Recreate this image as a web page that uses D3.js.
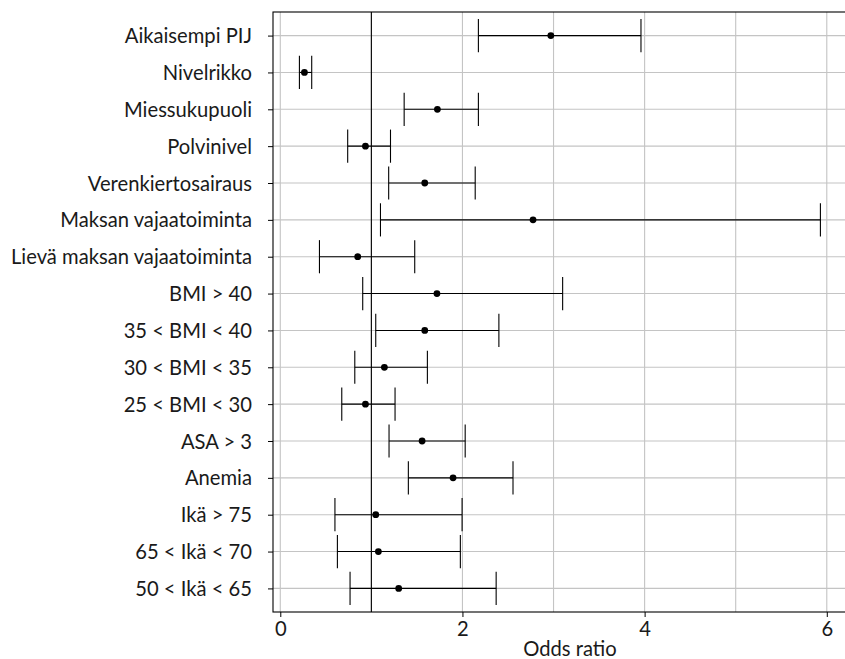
<!DOCTYPE html>
<html>
<head>
<meta charset="utf-8">
<script src="https://cdn.jsdelivr.net/npm/d3@7"></script>
<style>
  body { margin: 0; background: #fff; }
  svg text { font-family: Lato, "Open Sans", sans-serif; fill: #1a1a1a; }
</style>
</head>
<body>
<div id="chart"></div>
<script>
/* ********* data ********* */
var labels = [
  "Aikaisempi PIJ", "Nivelrikko", "Miessukupuoli", "Polvinivel",
  "Verenkiertosairaus", "Maksan vajaatoiminta", "Lievä maksan vajaatoiminta",
  "BMI > 40", "35 < BMI < 40", "30 < BMI < 35", "25 < BMI < 30",
  "ASA > 3", "Anemia", "Ikä > 75", "65 < Ikä < 70", "50 < Ikä < 65"
];
var oddsRatio = [2.97, 0.265, 1.725, 0.935, 1.586, 2.775, 0.85, 1.72, 1.586, 1.143, 0.935, 1.557, 1.897, 1.048, 1.077, 1.30];
var ciLow     = [2.175, 0.21, 1.36, 0.74, 1.19, 1.10, 0.43, 0.905, 1.048, 0.818, 0.675, 1.194, 1.406, 0.60, 0.627, 0.766];
var ciHigh    = [3.96, 0.345, 2.175, 1.21, 2.14, 5.93, 1.476, 3.10, 2.40, 1.615, 1.26, 2.03, 2.555, 1.996, 1.977, 2.37];
var xTicks = [0, 2, 4, 6];
var xMinor = [1, 3, 5];
var refLine = 1;

var rows = labels.map(function(l, i) {
  return { label: l, or: oddsRatio[i], lo: ciLow[i], hi: ciHigh[i] };
});

/* ********* layout ********* */
var W = 845, H = 659;
var panel = { left: 273, right: 845, top: 12, bottom: 612 };
var fontSize = "20.2px";

var svg = d3.select("#chart").append("svg")
  .attr("width", W)
  .attr("height", H);

var x = d3.scaleLinear()
  .domain([-0.08, 6.2])
  .range([panel.left, panel.right]);

var y = d3.scalePoint()
  .domain(labels)
  .range([panel.top, panel.bottom])
  .padding(0.64);

var capH = y.step() * 0.9;
var grid = "#c4c4c4";

/* grid */
svg.append("g").selectAll("line")
  .data(xTicks.concat(xMinor))
  .enter().append("line")
    .attr("x1", function(d) { return x(d); })
    .attr("x2", function(d) { return x(d); })
    .attr("y1", panel.top)
    .attr("y2", panel.bottom)
    .style("stroke", grid)
    .style("stroke-width", 1.1);

svg.append("g").selectAll("line")
  .data(labels)
  .enter().append("line")
    .attr("x1", panel.left)
    .attr("x2", panel.right)
    .attr("y1", function(d) { return y(d); })
    .attr("y2", function(d) { return y(d); })
    .style("stroke", grid)
    .style("stroke-width", 1.1);

/* reference line at OR = 1 */
svg.append("line")
  .attr("x1", x(refLine)).attr("x2", x(refLine))
  .attr("y1", panel.top).attr("y2", panel.bottom)
  .style("stroke", "#000")
  .style("stroke-width", 1.1);

/* error bars */
var bars = svg.append("g").selectAll("g")
  .data(rows)
  .enter().append("g");

bars.append("line")
  .attr("x1", function(d) { return x(d.lo); })
  .attr("x2", function(d) { return x(d.hi); })
  .attr("y1", function(d) { return y(d.label); })
  .attr("y2", function(d) { return y(d.label); });

bars.append("line")
  .attr("x1", function(d) { return x(d.lo); })
  .attr("x2", function(d) { return x(d.lo); })
  .attr("y1", function(d) { return y(d.label) - capH / 2; })
  .attr("y2", function(d) { return y(d.label) + capH / 2; });

bars.append("line")
  .attr("x1", function(d) { return x(d.hi); })
  .attr("x2", function(d) { return x(d.hi); })
  .attr("y1", function(d) { return y(d.label) - capH / 2; })
  .attr("y2", function(d) { return y(d.label) + capH / 2; });

bars.selectAll("line")
  .style("stroke", "#000")
  .style("stroke-width", 1.1);

bars.append("circle")
  .attr("cx", function(d) { return x(d.or); })
  .attr("cy", function(d) { return y(d.label); })
  .attr("r", 3.4)
  .style("fill", "#000");

/* panel border */
svg.append("rect")
  .attr("x", panel.left)
  .attr("y", panel.top)
  .attr("width", panel.right - panel.left + 5)
  .attr("height", panel.bottom - panel.top)
  .style("fill", "none")
  .style("stroke", "#000")
  .style("stroke-width", 1.1);

/* axes */
var yAxis = svg.append("g")
  .attr("transform", "translate(" + panel.left + ",0)")
  .call(d3.axisLeft(y).tickSize(5).tickPadding(16));
yAxis.select(".domain").remove();
yAxis.selectAll("text")
  .style("font-size", fontSize)
  .attr("dy", "0.35em");

var xAxis = svg.append("g")
  .attr("transform", "translate(0," + panel.bottom + ")")
  .call(d3.axisBottom(x).tickValues(xTicks).tickFormat(d3.format("d")).tickSize(5).tickPadding(5));
xAxis.select(".domain").remove();
xAxis.selectAll("text")
  .style("font-size", fontSize);

svg.selectAll(".tick line").style("stroke", "#000");

svg.append("text")
  .attr("x", 570)
  .attr("y", 656)
  .attr("text-anchor", "middle")
  .style("font-size", fontSize)
  .text("Odds ratio");
</script>
</body>
</html>
